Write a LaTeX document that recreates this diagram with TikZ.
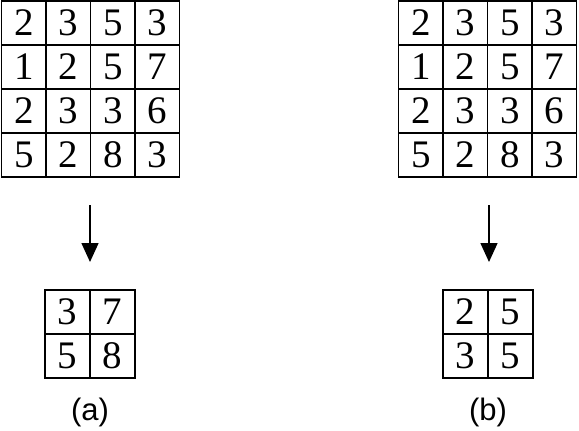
\documentclass[tikz,border=0pt]{standalone}
\usepackage{fontspec}
\setmainfont{Liberation Serif}
\newfontfamily\capfont{Liberation Sans}
\usetikzlibrary{arrows.meta}

\begin{document}
\begin{tikzpicture}[
    x=1pt, y=-1pt,
    cellbox/.style={
        rectangle, draw=black, line width=1.6pt,
        minimum width=44.5pt, minimum height=44pt,
        inner sep=0pt, font=\fontsize{39}{39}\selectfont
    },
    smallbox/.style={cellbox, minimum width=45pt},
    arrowstyle/.style={
        -{Triangle[length=19pt, width=17pt]},
        line width=1.5pt
    },
    caption/.style={font=\capfont\fontsize{31}{31}\selectfont}
]
    \useasboundingbox (0,0) rectangle (579,431);

    % grandi griglie 4x4
    \foreach \row [count=\r] in {{2,3,5,3},{1,2,5,7},{2,3,3,6},{5,2,8,3}} {
        \foreach \v [count=\c] in \row {
            \node[cellbox] (L\r\c) at ({1.5+44.5*(\c-0.5)}, {1+44*(\r-0.5)}) {\v};
            \node[cellbox] (R\r\c) at ({398.5+44.5*(\c-0.5)}, {1+44*(\r-0.5)}) {\v};
        }
    }

    % frecce
    \coordinate (aTop) at (90,205);
    \coordinate (aEnd) at (90,262);
    \draw[arrowstyle] (aTop) -- (aEnd);

    \coordinate (bTop) at (489,205);
    \coordinate (bEnd) at (489,262);
    \draw[arrowstyle] (bTop) -- (bEnd);

    % piccole griglie 2x2
    \foreach \row [count=\r] in {{3,7},{5,8}} {
        \foreach \v [count=\c] in \row {
            \node[smallbox] (a\r\c) at ({45+45*(\c-0.5)}, {290+44*(\r-0.5)}) {\v};
        }
    }
    \foreach \row [count=\r] in {{2,5},{3,5}} {
        \foreach \v [count=\c] in \row {
            \node[smallbox] (b\r\c) at ({443+45*(\c-0.5)}, {290+44*(\r-0.5)}) {\v};
        }
    }

    % didascalie
    \node[caption] (capA) at (90,412) {(a)};
    \node[caption] (capB) at (488,412) {(b)};
\end{tikzpicture}
\end{document}
